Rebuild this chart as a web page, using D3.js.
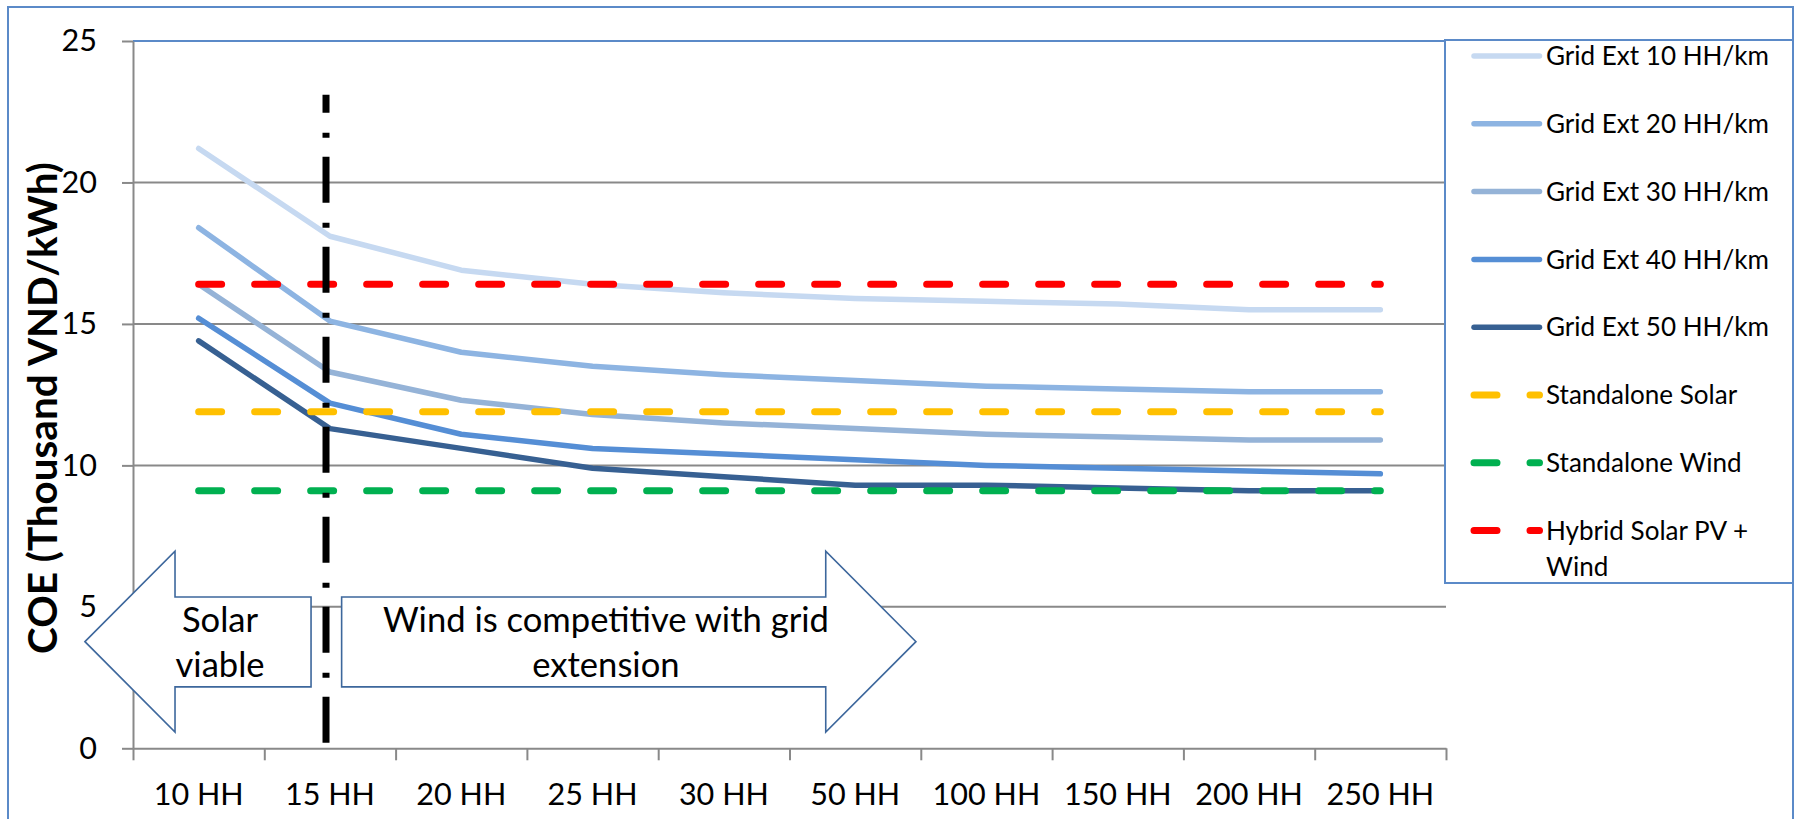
<!DOCTYPE html>
<html><head><meta charset="utf-8">
<script src="https://cdn.jsdelivr.net/npm/d3@7"></script>
<style>body{margin:0;background:#fff} svg{display:block}</style>
</head><body>
<svg id="c" width="1794" height="819"></svg>
<script>
// ---------- data ----------
const categories = ["10 HH","15 HH","20 HH","25 HH","30 HH","50 HH","100 HH","150 HH","200 HH","250 HH"];
const gridExt10 = [21.2,18.1,16.9,16.4,16.1,15.9,15.8,15.7,15.5,15.5];
const gridExt20 = [18.4,15.1,14.0,13.5,13.2,13.0,12.8,12.7,12.6,12.6];
const gridExt30 = [16.4,13.3,12.3,11.8,11.5,11.3,11.1,11.0,10.9,10.9];
const gridExt40 = [15.2,12.2,11.1,10.6,10.4,10.2,10.0,9.9,9.8,9.7];
const gridExt50 = [14.4,11.3,10.6,9.9,9.6,9.3,9.3,9.2,9.1,9.1];
const standaloneSolar = [11.9,11.9,11.9,11.9,11.9,11.9,11.9,11.9,11.9,11.9];
const standaloneWind  = [9.1,9.1,9.1,9.1,9.1,9.1,9.1,9.1,9.1,9.1];
const hybridSolarWind = [16.4,16.4,16.4,16.4,16.4,16.4,16.4,16.4,16.4,16.4];
const yTicks = [0,5,10,15,20,25];
const seriesNames = ["Grid Ext 10 HH/km","Grid Ext 20 HH/km","Grid Ext 30 HH/km","Grid Ext 40 HH/km","Grid Ext 50 HH/km","Standalone Solar","Standalone Wind","Hybrid Solar PV + Wind"];
const yTitle = "COE (Thousand VND/kWh)";

// ---------- setup ----------
const series = [
  {name:seriesNames[0], values:gridExt10, color:"#c6d9f1", dashed:false},
  {name:seriesNames[1], values:gridExt20, color:"#8db4e2", dashed:false},
  {name:seriesNames[2], values:gridExt30, color:"#95b3d7", dashed:false},
  {name:seriesNames[3], values:gridExt40, color:"#558ed5", dashed:false},
  {name:seriesNames[4], values:gridExt50, color:"#376092", dashed:false},
  {name:seriesNames[5], values:standaloneSolar, color:"#ffc000", dashed:true},
  {name:seriesNames[6], values:standaloneWind, color:"#00b050", dashed:true},
  {name:seriesNames[7], values:hybridSolarWind, color:"#ff0000", dashed:true}
];
const FONT = "Lato, 'Open Sans', 'Liberation Sans', sans-serif";
const BORDER = "#5b8ac8", AXIS = "#898989";
const svg = d3.select("#c");
const plot = {left:133, right:1446, top:41, bottom:748.3};
const x = d3.scaleBand().domain(categories).range([plot.left, plot.right]);
const xi = d3.scaleLinear().domain([0, categories.length]).range([plot.left, plot.right]);
const y = d3.scaleLinear().domain([0, 25]).range([plot.bottom, plot.top]);
const cx = c => x(c) + x.bandwidth()/2;

function fitSize(text, weight, target){
  const t = svg.append("text").attr("font-family",FONT).attr("font-weight",weight).attr("font-size",100).text(text);
  const w = t.node().getComputedTextLength(); t.remove();
  return 100*target/w;
}
const tickFS = fitSize("10 HH", 400, 90);
const legendFS = fitSize("Grid Ext 10 HH/km", 400, 223);
const annoFS = fitSize("Wind is competitive with grid", 400, 446);
const titleFS = fitSize(yTitle, 700, 492);

// outer border
svg.append("rect").attr("x",8).attr("y",7).attr("width",1785).attr("height",840)
  .attr("fill","#fff").attr("stroke",BORDER).attr("stroke-width",2);

// gridlines
svg.append("g").selectAll("line").data(yTicks.filter(v => v>0 && v<25)).join("line")
  .attr("x1",plot.left).attr("x2",plot.right).attr("y1",d=>y(d)).attr("y2",d=>y(d))
  .attr("stroke",AXIS).attr("stroke-width",2);
// plot area top border
svg.append("line").attr("x1",plot.left).attr("x2",plot.right).attr("y1",y(25)).attr("y2",y(25))
  .attr("stroke",BORDER).attr("stroke-width",2);

// y axis
const yAxis = svg.append("g").attr("transform",`translate(${plot.left},0)`)
  .call(d3.axisLeft(y).tickValues(yTicks).tickSize(11).tickSizeOuter(0).tickPadding(25));
yAxis.selectAll("path,line").attr("stroke",AXIS).attr("stroke-width",2);
yAxis.selectAll("text").attr("font-family",FONT).attr("font-size",tickFS).attr("fill","#000");

// x axis (ticks between categories)
const xAxis = svg.append("g").attr("transform",`translate(0,${plot.bottom})`)
  .call(d3.axisBottom(xi).tickValues(d3.range(0, categories.length+1)).tickSize(12).tickSizeOuter(0).tickFormat(""));
xAxis.selectAll("path,line").attr("stroke",AXIS).attr("stroke-width",2);
const xLab = svg.append("g").attr("transform",`translate(0,${plot.bottom})`)
  .call(d3.axisBottom(x).tickSize(0).tickPadding(35));
xLab.select(".domain").remove();
xLab.selectAll("text").attr("font-family",FONT).attr("font-size",tickFS).attr("fill","#000");

// y title
svg.append("text").attr("transform",`translate(57,408) rotate(-90)`)
  .attr("text-anchor","middle").attr("font-family",FONT).attr("font-weight",700)
  .attr("font-size",titleFS).attr("fill","#000").text(yTitle);

// series lines
const line = d3.line().x((d,i)=>cx(categories[i])).y(d=>y(d));
svg.append("g").selectAll("path").data(series).join("path")
  .attr("d",d=>line(d.values)).attr("fill","none").attr("stroke",d=>d.color)
  .attr("stroke-width",d=>d.dashed?7:5.5).attr("stroke-linecap","round").attr("stroke-linejoin","round")
  .attr("stroke-dasharray",d=>d.dashed?"23 33":null);

// divider dash-dot line (position in category-index units)
const divider = {pos:1.47, from:0.2, to:23.1};
svg.append("line").attr("x1",xi(divider.pos)).attr("x2",xi(divider.pos))
  .attr("y1",y(divider.from)).attr("y2",y(divider.to))
  .attr("stroke","#000").attr("stroke-width",7).attr("stroke-dasharray","46 19 5 20");

// annotation arrows (in data units)
const solarArrow = {tip:-0.366, head:0.32, end:1.356, yTip:3.77, headTop:6.97, headBottom:0.575, shaftTop:5.35, shaftBottom:2.17};
const windArrow  = {tail:1.589, head:5.276, tip:5.963, yTip:3.77, headTop:6.97, headBottom:0.575, shaftTop:5.35, shaftBottom:2.17};
const a = solarArrow;
const leftPts = [[a.tip,a.yTip],[a.head,a.headTop],[a.head,a.shaftTop],[a.end,a.shaftTop],[a.end,a.shaftBottom],[a.head,a.shaftBottom],[a.head,a.headBottom]];
const b = windArrow;
const rightPts = [[b.tail,b.shaftTop],[b.head,b.shaftTop],[b.head,b.headTop],[b.tip,b.yTip],[b.head,b.headBottom],[b.head,b.shaftBottom],[b.tail,b.shaftBottom]];
svg.append("g").selectAll("polygon").data([leftPts,rightPts]).join("polygon")
  .attr("points",d=>d.map(p=>[xi(p[0]),y(p[1])].join(",")).join(" "))
  .attr("fill","#fff").attr("stroke","#3d679c").attr("stroke-width",1.6);

const annoText = [
  {lines:["Solar","viable"], pos:0.663},
  {lines:["Wind is competitive with grid","extension"], pos:3.602}
];
const annoG = svg.append("g");
annoText.forEach(t=>{
  t.lines.forEach((s,k)=>{
    annoG.append("text").attr("x",xi(t.pos)).attr("y",y(a.yTip)-10+k*45)
      .attr("text-anchor","middle").attr("font-family",FONT).attr("font-size",annoFS).attr("fill","#000").text(s);
  });
});

// legend
const lg = {x:1445, y:40, w:348, h:543, first:56, step:67.8, sx1:1474, sx2:1539.5, tx:1546};
svg.append("rect").attr("x",lg.x).attr("y",lg.y).attr("width",lg.w).attr("height",lg.h)
  .attr("fill","#fff").attr("stroke",BORDER).attr("stroke-width",2);
const items = svg.append("g").selectAll("g").data(series).join("g")
  .attr("transform",(d,i)=>`translate(0,${lg.first + i*lg.step})`);
items.append("line").attr("x1",lg.sx1).attr("x2",lg.sx2).attr("y1",0).attr("y2",0)
  .attr("stroke",d=>d.color).attr("stroke-width",d=>d.dashed?7:5.5).attr("stroke-linecap","round")
  .attr("stroke-dasharray",d=>d.dashed?"23 33":null);
items.append("text").attr("x",lg.tx).attr("y",0).attr("dy","0.35em")
  .attr("font-family",FONT).attr("font-size",legendFS).attr("fill","#000")
  .each(function(d){
    const t = d3.select(this);
    if (d.name === "Hybrid Solar PV + Wind") {
      t.append("tspan").attr("x",lg.tx).text("Hybrid Solar PV +");
      t.append("tspan").attr("x",lg.tx).attr("dy","1.38em").text("Wind");
    } else t.text(d.name);
  });
</script>
</body></html>
